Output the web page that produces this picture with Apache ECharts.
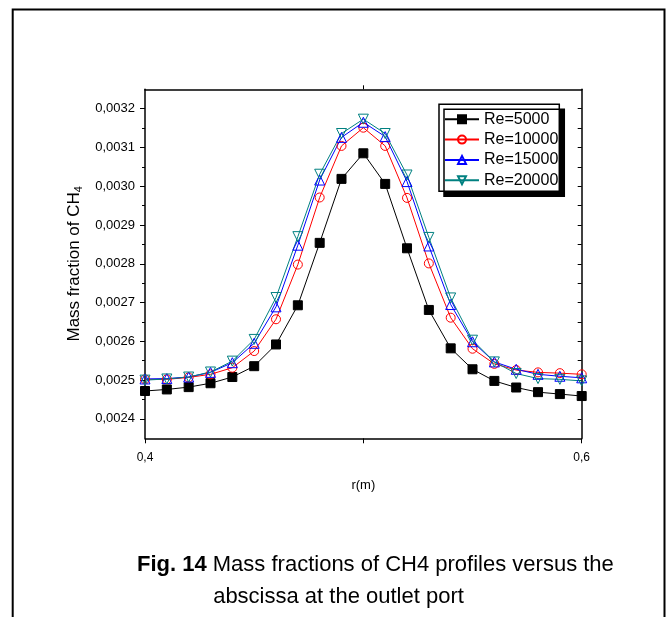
<!DOCTYPE html>
<html>
<head>
<meta charset="utf-8">
<script src="https://cdn.jsdelivr.net/npm/echarts@6/dist/echarts.min.js"></script>
<style>
html,body{margin:0;padding:0;background:#fff;}
#chart{width:671px;height:617px;}
</style>
</head>
<body>
<div id="chart"></div>
<script>
// ---- data ----
const rValues = [0.40,0.41,0.42,0.43,0.44,0.45,0.46,0.47,0.48,0.49,0.50,0.51,0.52,0.53,0.54,0.55,0.56,0.57,0.58,0.59,0.60];
const re5000  = [0.002472,0.002476,0.002482,0.002492,0.002508,0.002536,0.002592,0.002693,0.002854,0.003019,0.003085,0.003006,0.002840,0.002681,0.002582,0.002528,0.002498,0.002481,0.002469,0.002464,0.002459];
const re10000 = [0.002502,0.002502,0.002507,0.002515,0.002532,0.002575,0.002657,0.002798,0.002971,0.003104,0.003151,0.003104,0.002970,0.002801,0.002661,0.002581,0.002542,0.002526,0.002520,0.002518,0.002515];
const re15000 = [0.002503,0.002504,0.002508,0.002520,0.002545,0.002595,0.002689,0.002848,0.003016,0.003126,0.003165,0.003128,0.003012,0.002846,0.002695,0.002599,0.002547,0.002528,0.002515,0.002510,0.002506];
const re20000 = [0.002500,0.002503,0.002508,0.002521,0.002549,0.002605,0.002713,0.002870,0.003031,0.003136,0.003173,0.003136,0.003029,0.002868,0.002712,0.002603,0.002547,0.002517,0.002504,0.002502,0.002498];
const seriesNames = ['Re=5000','Re=10000','Re=15000','Re=20000'];
const yMajorTicks = [0.0024,0.0025,0.0026,0.0027,0.0028,0.0029,0.0030,0.0031,0.0032];
const yMinorTicks = [0.00245,0.00255,0.00265,0.00275,0.00285,0.00295,0.00305,0.00315];
const xTicks = [0.4,0.5,0.6];
const xLabelTicks = [0.4,0.6];
const yTitle = 'Mass fraction of CH';
const xTitle = 'r(m)';
const captionBold = 'Fig. 14';
const captionLine1 = ' Mass fractions of CH4 profiles versus the';
const captionLine2 = 'abscissa at the outlet port';

const FONT = 'Liberation Sans, Arial, sans-serif';
const chart = echarts.init(document.getElementById('chart'), null, {renderer:'canvas'});

function pairs(ys){ return rValues.map((x,i)=>[x, ys[i]]); }
const comma = (v,d)=>v.toFixed(d).replace('.',',');
const invTri = 'path://M0,0L10,0L5,8.66Z';

function mkSeries(name, data, color, symbol, size, filled){
  return {
    name, type:'line', data: pairs(data),
    symbol, symbolSize: size,
    lineStyle:{color, width:1},
    itemStyle:{color: filled ? color : 'rgba(255,255,255,0)', borderColor: color, borderWidth:1},
    emphasis:{disabled:true},
    z: 3
  };
}

const option = {
  animation:false,
  backgroundColor:'#fff',
  textStyle:{fontFamily:FONT},
  grid:{left:145, top:89.3, right:89.3, bottom:178.7, containLabel:false},
  legend:{
    left:439, top:104.3, orient:'vertical',
    padding:[7,1,3,5],
    itemWidth:34, itemHeight:10, itemGap:4.3,
    backgroundColor:'#fff', borderColor:'#000', borderWidth:1.5, borderRadius:0,
    shadowColor:'#000', shadowOffsetX:5, shadowOffsetY:5, shadowBlur:0,
    textStyle:{fontSize:16, color:'#000', fontFamily:FONT, lineHeight:16},
    data: seriesNames
  },
  xAxis:[
    {type:'value', position:'bottom', min:0.4, max:0.6,
     axisLine:{show:true, lineStyle:{color:'#000', width:1.5}},
     axisTick:{show:true, inside:false, length:5, customValues:xTicks, lineStyle:{color:'#000', width:1}},
     axisLabel:{show:true, customValues:xLabelTicks, margin:13, fontSize:12, color:'#000', fontFamily:FONT,
       formatter:v=>comma(v,1)},
     splitLine:{show:false},
     name:xTitle, nameLocation:'middle', nameGap:41,
     nameTextStyle:{fontSize:13, color:'#000', fontFamily:FONT}
    },
    {type:'value', position:'top', min:0.4, max:0.6,
     axisLine:{show:true, lineStyle:{color:'#000', width:1.5}},
     axisTick:{show:true, inside:false, length:4, customValues:[0.5], lineStyle:{color:'#000', width:1}},
     axisLabel:{show:false}, splitLine:{show:false}
    }
  ],
  yAxis:[
    {type:'value', position:'left', min:0.00235, max:0.00325,
     axisLine:{show:true, lineStyle:{color:'#000', width:1.5}},
     axisTick:{show:true, inside:false, length:5, customValues:yMajorTicks, lineStyle:{color:'#000', width:1}},
     axisLabel:{show:true, customValues:yMajorTicks, margin:10, fontSize:13, color:'#000', fontFamily:FONT,
       formatter:v=>comma(v,4)},
     splitLine:{show:false},
     name:'{t|'+yTitle+'}{s|4}', nameLocation:'middle', nameGap:61,
     nameTextStyle:{fontSize:17, color:'#000', fontFamily:FONT,
       rich:{t:{fontSize:17, color:'#000', fontFamily:FONT}, s:{fontSize:11, color:'#000', fontFamily:FONT, padding:[8,0,0,0]}}}
    },
    {type:'value', position:'left', min:0.00235, max:0.00325,
     axisLine:{show:false},
     axisTick:{show:true, inside:false, length:3, customValues:yMinorTicks, lineStyle:{color:'#000', width:1}},
     axisLabel:{show:false}, splitLine:{show:false}
    },
    {type:'value', position:'right', min:0.00235, max:0.00325,
     axisLine:{show:true, lineStyle:{color:'#000', width:1.5}},
     axisTick:{show:true, inside:true, length:4, customValues:yMajorTicks.concat(yMinorTicks), lineStyle:{color:'#000', width:1}},
     axisLabel:{show:false}, splitLine:{show:false}
    }
  ],
  series:[
    mkSeries(seriesNames[0], re5000, '#000000', 'rect', 9, true),
    mkSeries(seriesNames[1], re10000, '#ff0000', 'circle', 9, false),
    mkSeries(seriesNames[2], re15000, '#0000ff', 'triangle', 10, false),
    mkSeries(seriesNames[3], re20000, '#008080', invTri, 10, false)
  ],
  graphic:[
    {type:'polyline', z:-1, shape:{points:[[12.7,617],[12.7,9.5],[664.5,9.5],[664.5,617]]},
     style:{stroke:'#000', lineWidth:2, fill:null}},
    {type:'text', left:137, top:554,
     style:{text:'{b|'+captionBold+'}{n|'+captionLine1+'}',
       rich:{b:{fontWeight:'bold', fontSize:22, fontFamily:FONT, fill:'#000'},
             n:{fontSize:22, fontFamily:FONT, fill:'#000'}}}},
    {type:'text', x:338.5, y:597,
     style:{text:captionLine2, fontSize:22, fontFamily:FONT, fill:'#000', align:'center', verticalAlign:'middle'}}
  ]
};
chart.setOption(option);
</script>
</body>
</html>
